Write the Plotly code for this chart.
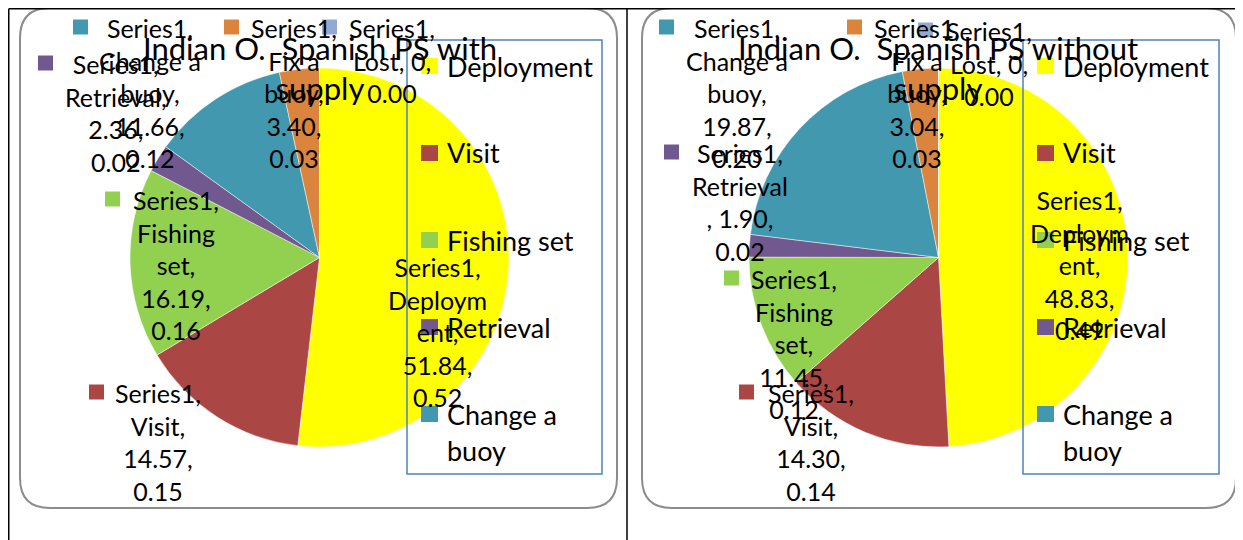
import plotly.graph_objects as go

W, H = 1243, 540
OFF = 8  # the page body keeps an 8px margin around the figure
FW, FH = W - OFF, H - OFF
FONT = "Lato"

# data
categories = ["Deployment", "Visit", "Fishing set", "Retrieval", "Change a buoy", "Fix a buoy", "Lost"]
colors = ["#FFFF00", "#AA4643", "#92D050", "#71588F", "#4198AF", "#DB843D", "#93A9CF"]
values_with = [51.84, 14.57, 16.19, 2.36, 11.66, 3.40, 0.0]
shares_with = [0.52, 0.15, 0.16, 0.02, 0.12, 0.03, 0.00]
values_without = [48.83, 14.30, 11.45, 1.90, 19.87, 3.04, 0.0]
shares_without = [0.49, 0.14, 0.12, 0.02, 0.20, 0.03, 0.00]
titles = ["Indian O.\u00a0 Spanish PS with<br>supply", "Indian O.\u00a0 Spanish PS without<br>supply"]

# how Excel wrapped the category names inside the data labels
name_wrap = {"Deployment": ["Deploym", "ent,"], "Visit": ["Visit,"], "Fishing set": ["Fishing", "set,"],
             "Retrieval": ["Retrieval,"], "Change a buoy": ["Change a", "buoy,"],
             "Fix a buoy": ["Fix a", "buoy,"], "Lost": []}
legend_wrap = {"Change a buoy": ["Change a", "buoy"]}


def px(x):
    return (x - OFF) / FW


def py(y):
    return 1 - (y - OFF) / FH


def label_lines(i, values, shares, odd_retrieval=False):
    name = categories[i]
    v = values[i]
    vtxt = "0" if v == 0 else f"{v:.2f}"
    if v == 0:
        return ["Series1,", f"{name}, {vtxt},", f"{shares[i]:.2f}"]
    if odd_retrieval:
        return ["Series1,", name, f", {vtxt},", f"{shares[i]:.2f}"]
    return ["Series1,"] + name_wrap[name] + [f"{vtxt},", f"{shares[i]:.2f}"]


# label placement per chart: (category index, centre x, first line y, key x)
place_with = [(0, 437, 267, 366), (1, 158, 393, 89), (2, 176, 200, 105), (3, 116, 64, 38),
              (4, 150, 28, 73), (5, 294, 28, 224), (6, 392, 28, 322)]
place_without = [(0, 1079, 200, 1008), (1, 811, 393, 739), (2, 794, 279, 724), (3, 740, 153, 664),
                 (4, 737, 28, 659), (5, 917, 28, 847), (6, 989, 31, 918)]

charts = [
    dict(values=values_with, shares=shares_with, title=titles[0], pie_x=(130, 509),
         box=(20, 617), legend=(407, 602), cx=320, place=place_with),
    dict(values=values_without, shares=shares_without, title=titles[1], pie_x=(749, 1128),
         box=(642, 1236), legend=(1023, 1219), cx=938, place=place_without),
]

fig = go.Figure()
shapes = []
annotations = []

LFS = 25
LH = 1.3 * LFS

for c in charts:
    fig.add_trace(go.Pie(
        labels=categories, values=c["values"], sort=False, direction="clockwise", rotation=0,
        marker=dict(colors=colors, line=dict(color="rgba(255,255,255,0.6)", width=0.8)),
        textinfo="none", hoverinfo="label+value+percent", showlegend=False,
        domain=dict(x=[px(c["pie_x"][0]), px(c["pie_x"][1])], y=[py(448), py(67)]),
    ))

    # rounded chart frame
    x0, x1 = px(c["box"][0]), px(c["box"][1])
    y0, y1 = py(8), py(508)
    rx, ry = 30 / FW, 30 / FH
    path = (f"M {x0 + rx},{y0} L {x1 - rx},{y0} Q {x1},{y0} {x1},{y0 - ry} "
            f"L {x1},{y1 + ry} Q {x1},{y1} {x1 - rx},{y1} L {x0 + rx},{y1} "
            f"Q {x0},{y1} {x0},{y1 + ry} L {x0},{y0 - ry} Q {x0},{y0} {x0 + rx},{y0} Z")
    shapes.append(dict(type="path", path=path, xref="paper", yref="paper",
                       line=dict(color="#8C8C8C", width=2), layer="below"))

    # title
    annotations.append(dict(text=c["title"], x=px(c["cx"]), y=py(68), xref="paper", yref="paper",
                            xanchor="center", yanchor="middle", showarrow=False, align="center",
                            font=dict(family=FONT, size=31, color="#000")))

    # data labels with legend keys
    for i, cxl, yl, kx in c["place"]:
        lines = label_lines(i, c["values"], c["shares"],
                            odd_retrieval=(c is charts[1] and categories[i] == "Retrieval"))
        ymid = yl + (len(lines) - 1) * LH / 2
        annotations.append(dict(text="<br>".join(lines), x=px(cxl), y=py(ymid), xref="paper", yref="paper",
                                xanchor="center", yanchor="middle", showarrow=False, align="center",
                                font=dict(family=FONT, size=LFS, color="#000")))
        shapes.append(dict(type="rect", xref="paper", yref="paper", x0=px(kx), x1=px(kx + 15),
                           y0=py(yl + 6.5), y1=py(yl - 8.5), fillcolor=colors[i], line=dict(width=0)))

    # legend box (Excel clipped it after five entries)
    lx0, lx1 = c["legend"]
    shapes.append(dict(type="rect", xref="paper", yref="paper", x0=px(lx0), x1=px(lx1),
                       y0=py(40), y1=py(474), line=dict(color="#4F81BD", width=1.5), layer="above"))
    for k, name in enumerate(categories[:5]):
        ye = 66 + 87 * k
        shapes.append(dict(type="rect", xref="paper", yref="paper", x0=px(lx0 + 14), x1=px(lx0 + 31),
                           y0=py(ye + 8), y1=py(ye - 8), fillcolor=colors[k], line=dict(width=0),
                           layer="above"))
        for j, part in enumerate(legend_wrap.get(name, [name])):
            annotations.append(dict(text=part, x=px(lx0 + 38), y=py(ye + 36 * j), xref="paper", yref="paper",
                                    xanchor="left", yanchor="middle", showarrow=False,
                                    font=dict(family=FONT, size=27, color="#000")))

# table borders around the two cells (left/top pulled just inside the figure)
edge = OFF + 0.75
for seg in [(edge, edge, edge, H), (edge, edge, W, edge), (627, edge, 627, H)]:
    shapes.append(dict(type="line", xref="paper", yref="paper", x0=px(seg[0]), y0=py(seg[1]),
                       x1=px(seg[2]), y1=py(seg[3]), line=dict(color="#000", width=1.5)))

fig.update_layout(
    width=FW, height=FH, margin=dict(l=0, r=0, t=0, b=0),
    paper_bgcolor="white", plot_bgcolor="white",
    shapes=shapes, annotations=annotations,
    font=dict(family=FONT),
)

fig.write_html("out.html")
